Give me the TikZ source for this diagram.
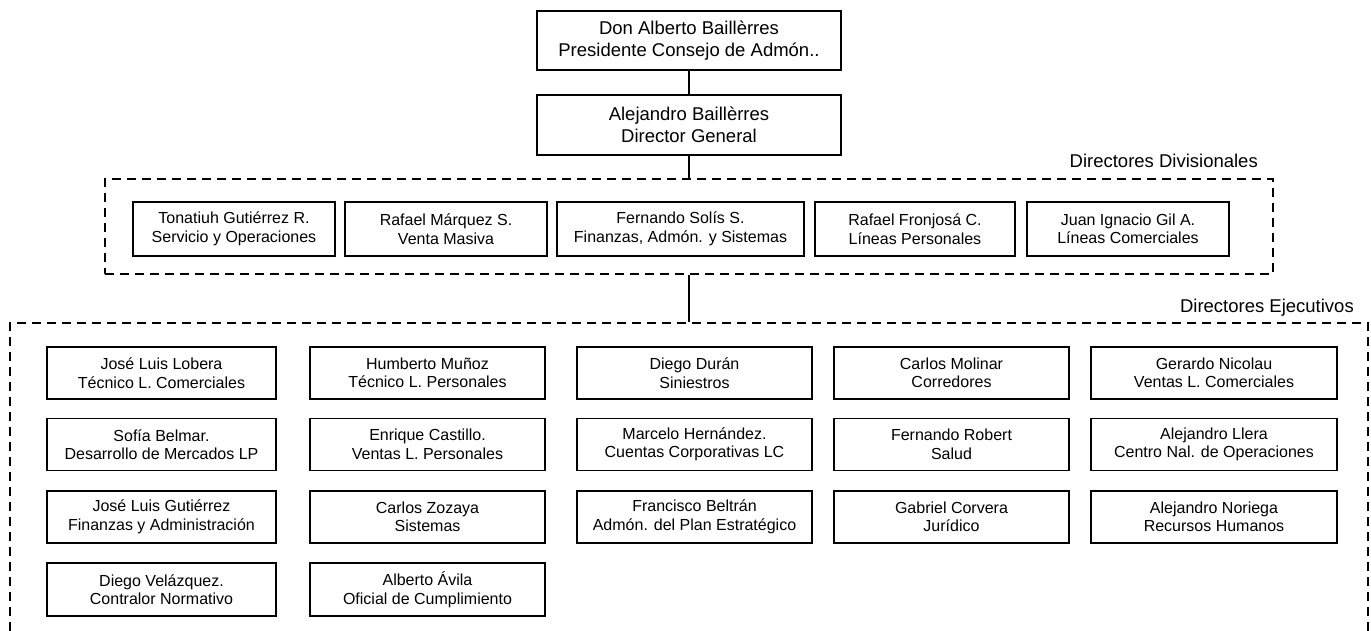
\documentclass[tikz,border=0pt]{standalone}
\usepackage{fontspec}
\setmainfont{Liberation Sans}
\begin{document}
\begin{tikzpicture}[x=1pt,y=-1pt,
  box/.style={draw=black, line width=1.6pt, fill=white, inner sep=0pt, align=center,
              font=\fontsize{16}{18.5}\selectfont},
  topbox/.style={box, font=\fontsize{18.5}{21.7}\selectfont},
  group/.style={draw=black, line width=1.3pt, dash pattern=on 9pt off 6pt, inner sep=0pt},
  conn/.style={draw=black, line width=1.5pt},
  grouplabel/.style={anchor=base east, inner sep=0pt, font=\fontsize{18.5}{21.7}\selectfont}]
\useasboundingbox (0,0) rectangle (1371,630);
\clip (0,0) rectangle (1371,630);

% board and general director
\node[topbox, minimum width=304, minimum height=59] (pres) at (689,40.5)
  {Don Alberto Baillèrres\\Presidente Consejo de Admón..};
\node[topbox, minimum width=304, minimum height=60] (dirg) at (689,125)
  {Alejandro Baillèrres\\Director General};

% divisional directors
\node[group, minimum width=1168, minimum height=95] (div) at (689,226.5) {};
\node[grouplabel] (divlab) at (1258,167) {Directores Divisionales};
\node[box, minimum width=202, minimum height=54] (d1) at (234,229)
  {Tonatiuh Gutiérrez R.\\Servicio y Operaciones};
\node[box, minimum width=202, minimum height=54] (d2) at (446,229)
  {Rafael Márquez S.\\Venta Masiva};
\node[box, minimum width=247, minimum height=54] (d3) at (680.5,229)
  {Fernando Solís S.\\Finanzas, Admón. y Sistemas};
\node[box, minimum width=200, minimum height=54] (d4) at (915,229)
  {Rafael Fronjosá C.\\Líneas Personales};
\node[box, minimum width=202, minimum height=54] (d5) at (1128,229)
  {Juan Ignacio Gil A.\\Líneas Comerciales};

% executive directors (the frame runs on below the page)
\node[group, minimum width=1358, minimum height=360] (exe) at (689,503) {};
\node[grouplabel] (exelab) at (1354,312.5) {Directores Ejecutivos};

% row 1
\node[box, minimum width=229, minimum height=52] (e11) at (161.5,373)
  {José Luis Lobera\\Técnico L. Comerciales};
\node[box, minimum width=235, minimum height=52] (e12) at (427.5,373)
  {Humberto Muñoz\\Técnico L. Personales};
\node[box, minimum width=235, minimum height=52] (e13) at (694.5,373)
  {Diego Durán\\Siniestros};
\node[box, minimum width=235, minimum height=52] (e14) at (951.5,373)
  {Carlos Molinar\\Corredores};
\node[box, minimum width=246, minimum height=52] (e15) at (1214,373)
  {Gerardo Nicolau\\Ventas L. Comerciales};
% row 2
\node[box, minimum width=229, minimum height=52] (e21) at (161.5,444.5)
  {Sofía Belmar.\\Desarrollo de Mercados LP};
\node[box, minimum width=235, minimum height=52] (e22) at (427.5,444.5)
  {Enrique Castillo.\\Ventas L. Personales};
\node[box, minimum width=235, minimum height=52] (e23) at (694.5,444.5)
  {Marcelo Hernández.\\Cuentas Corporativas LC};
\node[box, minimum width=235, minimum height=52] (e24) at (951.5,444.5)
  {Fernando Robert\\Salud};
\node[box, minimum width=246, minimum height=52] (e25) at (1214,444.5)
  {Alejandro Llera\\Centro Nal. de Operaciones};
% row 3
\node[box, minimum width=229, minimum height=52] (e31) at (161.5,517)
  {José Luis Gutiérrez\\Finanzas y Administración};
\node[box, minimum width=235, minimum height=52] (e32) at (427.5,517)
  {Carlos Zozaya\\Sistemas};
\node[box, minimum width=235, minimum height=52] (e33) at (694.5,517)
  {Francisco Beltrán\\Admón. del Plan Estratégico};
\node[box, minimum width=235, minimum height=52] (e34) at (951.5,517)
  {Gabriel Corvera\\Jurídico};
\node[box, minimum width=246, minimum height=52] (e35) at (1214,517)
  {Alejandro Noriega\\Recursos Humanos};
% row 4
\node[box, minimum width=229, minimum height=53] (e41) at (161.5,589.5)
  {Diego Velázquez.\\Contralor Normativo};
\node[box, minimum width=235, minimum height=53] (e42) at (427.5,589.5)
  {Alberto Ávila\\Oficial de Cumplimiento};

% reporting lines
\draw[conn] (pres.south) -- (dirg.north);
\draw[conn] (dirg.south) -- (div.north);
\draw[conn] (div.south) -- (exe.north);
\end{tikzpicture}
\end{document}
